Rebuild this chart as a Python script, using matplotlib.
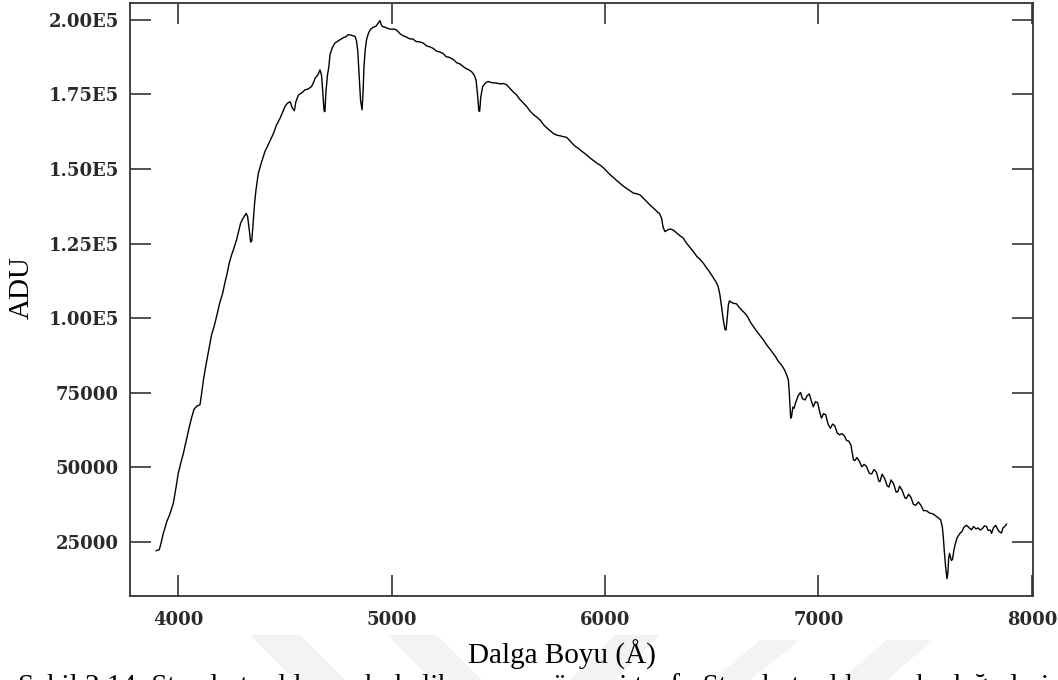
import matplotlib
matplotlib.use("Agg")
import matplotlib.pyplot as plt
from matplotlib.patches import Polygon

# ---- data ----
wavelength = [
    3898, 3912, 3920, 3931, 3940, 3947, 3960, 3978, 3990, 4001, 4013, 4025, 4040, 4053, 4065, 4075,
    4088, 4103, 4110, 4119, 4130, 4141, 4150, 4157, 4170, 4184, 4195, 4209, 4220, 4230, 4240, 4251,
    4262, 4274, 4285, 4293, 4305, 4319, 4326, 4333, 4340, 4345, 4350, 4358, 4365, 4376, 4390, 4407,
    4425, 4447, 4460, 4478, 4490, 4501, 4512, 4525, 4535, 4545, 4552, 4564, 4580, 4595, 4610, 4625,
    4635, 4642, 4655, 4665, 4672, 4678, 4684, 4688, 4693, 4700, 4706, 4712, 4722, 4735, 4748, 4759,
    4775, 4789, 4797, 4812, 4829, 4836, 4842, 4848, 4855, 4862, 4867, 4871, 4877, 4883, 4892, 4902,
    4915, 4927, 4935, 4946, 4952, 4958, 4970, 4985, 5000, 5010, 5023, 5040, 5055, 5070, 5085, 5101,
    5115, 5130, 5148, 5165, 5180, 5195, 5210, 5225, 5241, 5256, 5270, 5289, 5305, 5320, 5336, 5350,
    5362, 5375, 5387, 5396, 5403, 5409, 5413, 5418, 5427, 5440, 5453, 5470, 5490, 5508, 5525, 5539,
    5555, 5570, 5586, 5600, 5615, 5633, 5650, 5665, 5680, 5696, 5715, 5730, 5745, 5758, 5775, 5790,
    5805, 5820, 5835, 5850, 5862, 5875, 5890, 5905, 5920, 5935, 5950, 5963, 5977, 5995, 6010, 6025,
    6040, 6055, 6070, 6085, 6100, 6115, 6133, 6148, 6164, 6180, 6195, 6211, 6230, 6245, 6255, 6265,
    6272, 6281, 6292, 6305, 6320, 6335, 6350, 6367, 6380, 6395, 6414, 6430, 6445, 6461, 6475, 6487,
    6499, 6512, 6522, 6530, 6538, 6546, 6555, 6562, 6567, 6572, 6578, 6583, 6588, 6600, 6616, 6630,
    6643, 6656, 6668, 6680, 6695, 6710, 6725, 6742, 6757, 6772, 6788, 6800, 6812, 6827, 6840, 6850,
    6859, 6863, 6866, 6870, 6874, 6880, 6886, 6892, 6905, 6916, 6925, 6937, 6947, 6957, 6968, 6976,
    6986, 6996, 7008, 7014, 7024, 7034, 7045, 7056, 7066, 7076, 7088, 7099, 7110, 7122, 7132, 7142,
    7152, 7158, 7164, 7171, 7180, 7192, 7203, 7214, 7225, 7238, 7249, 7260, 7272, 7282, 7288, 7298,
    7310, 7322, 7330, 7340, 7352, 7364, 7372, 7380, 7392, 7405, 7412, 7422, 7433, 7445, 7455, 7468,
    7480, 7492, 7506, 7520, 7537, 7550, 7563, 7572, 7580, 7585, 7590, 7596, 7602, 7606, 7610, 7614,
    7618, 7623, 7628, 7635, 7642, 7650, 7663, 7672, 7682, 7694, 7705, 7717, 7727, 7737, 7748, 7758,
    7768, 7778, 7787, 7795, 7805, 7811, 7820, 7830, 7840, 7848, 7857, 7865, 7873, 7881,
]
adu = [
    22100, 22400, 24500, 27900, 30000, 31800, 34000, 38000, 43000, 48000, 51500, 54700, 59500, 63600, 67000, 69500,
    70500, 71000, 74500, 79300, 84000, 88200, 91500, 94400, 97500, 101600, 105000, 108300, 112000, 115000, 118500, 121200,
    123500, 126200, 129500, 131800, 133500, 135100, 134000, 130000, 125500, 125800, 130000, 138000, 142900, 148500, 152000, 155800,
    158500, 161900, 164500, 167000, 169000, 170900, 172000, 172500, 170500, 169500, 172500, 174800, 175500, 176500, 176800, 177600,
    179000, 180400, 181500, 183200, 181500, 176000, 169500, 169200, 176000, 181500, 184000, 188300, 190500, 192200, 192800, 193300,
    194000, 194400, 195000, 194800, 194400, 193000, 189500, 182000, 173000, 169800, 176000, 184300, 190000, 193300, 195500, 196800,
    197500, 197800, 198600, 199700, 198300, 197700, 197500, 197000, 196800, 196900, 196600, 195300, 194600, 194200, 193600, 193500,
    192700, 192600, 192200, 191200, 190900, 190400, 189500, 189200, 188700, 187600, 187400, 186700, 185600, 185200, 184300, 183600,
    183200, 182600, 181500, 179800, 175000, 169500, 169300, 174000, 177600, 178800, 179300, 178900, 178800, 178500, 178600, 178200,
    177000, 175800, 174800, 173400, 172300, 170900, 169300, 168200, 167400, 166400, 164600, 163600, 162700, 161900, 161300, 161100,
    160800, 160600, 159500, 158300, 157500, 156900, 156000, 155200, 154300, 153400, 152600, 151900, 151300, 150200, 149100, 148000,
    147100, 146100, 145200, 144300, 143500, 142800, 141900, 141700, 141300, 140200, 139100, 137900, 136700, 135600, 135100, 133500,
    130500, 129000, 129500, 129900, 129500, 128600, 127700, 126800, 125300, 124000, 122300, 120700, 119700, 118400, 116900, 115800,
    114500, 113000, 111900, 110600, 108000, 103900, 99000, 96200, 96000, 99500, 104500, 105800, 105500, 105000, 104800, 103500,
    102500, 101600, 100500, 98800, 97200, 95700, 94300, 92700, 91100, 89700, 88200, 87000, 85500, 84300, 82800, 81200,
    79300, 75500, 71500, 66500, 67000, 70200, 69800, 71500, 74000, 75100, 73000, 72600, 74000, 74600, 72000, 70300,
    72000, 71700, 68000, 66500, 68000, 67600, 64500, 63100, 64500, 64000, 61500, 60900, 61300, 60500, 59000, 58800,
    57500, 55000, 52500, 52300, 53300, 52000, 50200, 51000, 50300, 48000, 47800, 49300, 48300, 45500, 45200, 47700,
    46300, 43800, 43400, 45800, 44500, 41700, 41800, 43700, 42300, 39800, 39600, 41000, 40000, 37600, 37300, 38400,
    37300, 35500, 35500, 34700, 34400, 33700, 33000, 32500, 30200, 26500, 21500, 16500, 12700, 14500, 19500, 21200,
    20000, 18800, 19200, 22500, 24600, 26500, 27900, 28500, 30000, 30600, 29800, 29100, 30200, 29400, 29700, 29000,
    29500, 30400, 30200, 28900, 29000, 27900, 29800, 30600, 29200, 28400, 28000, 29800, 30200, 31000,
]

x_ticks = [4000, 5000, 6000, 7000, 8000]
x_tick_labels = ["4000", "5000", "6000", "7000", "8000"]
y_ticks = [25000, 50000, 75000, 100000, 125000, 150000, 175000, 200000]
y_tick_labels = ["25000", "50000", "75000", "1.00E5", "1.25E5", "1.50E5", "1.75E5", "2.00E5"]

x_label = "Dalga Boyu (Å)"
y_label = "ADU"
caption = "Şekil 2.14: Standart yıldızın akı kalibrasyonu öncesi tayfı. Standart yıldızın akı değerleri"

W, H = 1058, 680
fig = plt.figure(figsize=(W / 100, H / 100), dpi=100)
fig.patch.set_facecolor("white")

# faint watermark stripes below the plot
stripes = [
    [(250, 635), (300, 635), (345, 680), (295, 680)],
    [(387, 635), (437, 635), (482, 680), (432, 680)],
    [(615, 635), (660, 635), (615, 680), (570, 680)],
    [(760, 640), (800, 640), (750, 680), (713, 680)],
    [(887, 640), (933, 640), (887, 680), (840, 680)],
]
for s in stripes:
    pts = [(px / W, 1 - py / H) for px, py in s]
    fig.add_artist(Polygon(pts, closed=True, transform=fig.transFigure,
                           facecolor="#f3f3f3", edgecolor="none", zorder=0))

ax = fig.add_axes([130 / W, 1 - 596 / H, (1033 - 130) / W, (596 - 3) / H])
ax.set_facecolor("white")
ax.plot(wavelength, adu, color="black", linewidth=1.0)

ax.set_xlim(3775, 8005)
ax.set_ylim(6900, 205600)

ax.set_xticks(x_ticks)
ax.set_xticklabels(x_tick_labels)
ax.set_yticks(y_ticks)
ax.set_yticklabels(y_tick_labels)
ax.minorticks_off()

for lab in ax.get_xticklabels() + ax.get_yticklabels():
    lab.set_fontfamily("DejaVu Serif")
    lab.set_fontweight("bold")
    lab.set_fontsize(13)
    lab.set_color("#2a2a2a")

ax.tick_params(axis="both", which="major", direction="in", length=15, width=1.2,
               color="#333333", top=True, right=True)
ax.tick_params(axis="x", pad=11)
ax.tick_params(axis="y", pad=8)
for sp in ax.spines.values():
    sp.set_linewidth(1.3)
    sp.set_color("#333333")

serif = ["Liberation Serif", "DejaVu Serif"]
fig.text(562 / W, 1 - 664 / H, x_label, ha="center", va="baseline",
         fontsize=21, family=serif)
fig.text(22 / W, 1 - 288 / H, y_label, ha="center", va="center", rotation=90,
         fontsize=21, family=serif)
fig.text(18 / W, 1 - 694 / H, caption, ha="left", va="baseline",
         fontsize=21, family=serif)

fig.savefig("out.png", dpi=100)
